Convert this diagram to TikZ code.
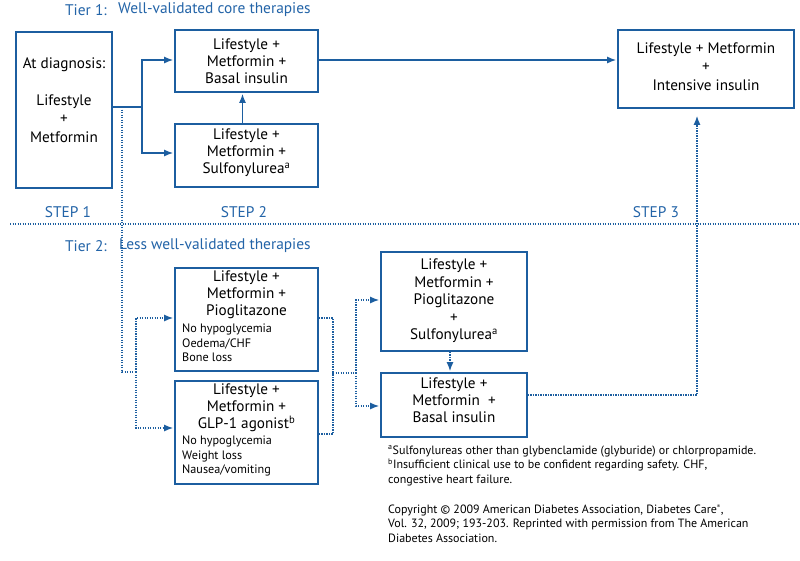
\documentclass[tikz,border=0pt]{standalone}
\usepackage{fontspec}
\setmainfont{PT Sans}
\usetikzlibrary{arrows.meta,calc}
\definecolor{dblue}{RGB}{28,94,160}
\definecolor{tblue}{RGB}{35,100,168}
\begin{document}
\begin{tikzpicture}[x=1pt,y=-1pt,
  box/.style={draw=dblue, line width=1.7pt, rectangle, inner sep=0pt},
  txt/.style={font=\fontsize{15.2}{17}\selectfont, align=center, inner sep=0pt, text=black},
  small/.style={font=\fontsize{12.2}{14.5}\selectfont, align=left, inner sep=0pt, anchor=west, text=black},
  note/.style={font=\fontsize{12}{14.5}\selectfont, align=left, inner sep=0pt, anchor=west, text=black},
  head/.style={text=tblue, font=\fontsize{15.4}{17}\selectfont, inner sep=0pt},
  conn/.style={draw=dblue, line width=1.4pt},
  dots/.style={draw=dblue, line width=1.4pt, dash pattern=on 1.3pt off 1.2pt},
  arr/.style={-{Latex[length=9pt,width=7pt]}, shorten >=1pt}
]
\useasboundingbox[fill=white] (0,0) rectangle (800,560);

% headings
\node[head, anchor=west] (t1a) at (65,10) {Tier 1:};
\node[head, anchor=west] (t1b) at (118,10) {Well-validated core therapies};
\node[head, anchor=west] (t2a) at (65,246) {Tier 2:};
\node[head, anchor=west] (t2b) at (119,246) {Less well-validated therapies};
\node[head] (s1) at (68,212) {STEP 1};
\node[head] (s2) at (244,212) {STEP 2};
\node[head] (s3) at (656,212) {STEP 3};

% boxes
\node[box, minimum width=96pt, minimum height=156pt] (diag) at (64,110) {};
\node[box, minimum width=143pt, minimum height=62pt] (A) at (246.5,61) {};
\node[box, minimum width=143pt, minimum height=63pt] (B) at (246.5,155.5) {};
\node[box, minimum width=176pt, minimum height=78pt] (C) at (706,69) {};
\node[box, minimum width=143pt, minimum height=103pt] (D) at (246.5,319.5) {};
\node[box, minimum width=143pt, minimum height=103pt] (E) at (246.5,432.5) {};
\node[box, minimum width=146pt, minimum height=99pt] (F) at (454,301.5) {};
\node[box, minimum width=146pt, minimum height=64pt] (G) at (454,405) {};

% box texts
\node[txt, font=\fontsize{15.2}{18.5}\selectfont] (diagt) at (64,100) {At diagnosis:\\[18.5pt]Lifestyle\\+\\Metformin};
\node[txt] (At) at (246.5,61) {Lifestyle +\\Metformin +\\Basal insulin};
\node[txt] (Bt) at (246.5,153) {Lifestyle +\\Metformin +\\Sulfonylurea\textsuperscript{a}};
\node[txt, font=\fontsize{15.2}{18.5}\selectfont] (Ct) at (706,66.5) {Lifestyle + Metformin\\+\\Intensive insulin};
\node[txt] (Dt) at (246.5,295) {Lifestyle +\\Metformin +\\Pioglitazone};
\node[small] (Ds) at (182,343) {No hypoglycemia\\Oedema/CHF\\Bone loss};
\node[txt] (Et) at (246.5,408) {Lifestyle +\\Metformin +\\GLP-1 agonist\textsuperscript{b}};
\node[small] (Es) at (182,456) {No hypoglycemia\\Weight loss\\Nausea/vomiting};
\node[txt, font=\fontsize{15.2}{17.5}\selectfont] (Ft) at (454,301) {Lifestyle +\\Metformin +\\Pioglitazone\\+\\Sulfonylurea\textsuperscript{a}};
\node[txt] (Gt) at (454,400) {Lifestyle +\\Metformin\ \ +\\Basal insulin};

% footnotes
\node[note] (fn) at (388,465.5) {\textsuperscript{a}Sulfonylureas other than glybenclamide (glyburide) or chlorpropamide.\\
\textsuperscript{b}Insufficient clinical use to be confident regarding safety. CHF,\\
congestive heart failure.};
\node[note] (cp) at (388,523.5) {Copyright \textcopyright{} 2009 American Diabetes Association, Diabetes Care\textsuperscript{\tiny\textregistered},\\
Vol. 32, 2009; 193-203. Reprinted with permission from The American\\
Diabetes Association.};

% separator
\coordinate (sepL) at (10,224);
\coordinate (sepR) at (800,224);
\draw[dots] (sepL) -- (sepR);

% tier 1 connectors
\coordinate (j1) at (142,107);
\draw[conn] (diag.east |- j1) -- (j1);
\draw[conn, arr] (j1) |- ([yshift=1pt]A.west);
\draw[conn, arr] (j1) |- ([yshift=2.5pt]B.west);
\draw[conn, arr] ([xshift=-4pt]B.north) -- ([xshift=-4pt]A.south);
\draw[conn, arr] ([yshift=1pt]A.east) -- ([yshift=1pt]A.east -| C.west);

% tier 2 connectors (dotted)
\coordinate (d0) at (122,107);
\coordinate (d1) at (122,372);
\coordinate (d2) at (136,372);
\draw[dots] (d0) -- (d1) -- (d2);
\draw[dots, arr] (d2) |- ([yshift=1.5pt]D.west);
\draw[dots, arr] (d2) |- ([yshift=4.5pt]E.west);

\coordinate (b1) at (333,373);
\coordinate (b2) at (356,373);
\draw[dots] ([yshift=1.5pt]D.east) -| (b1);
\draw[dots] ([yshift=-1.5pt]E.east) -| (b1);
\draw[dots] (b1) -- (b2);
\draw[dots, arr] (b2) |- ([yshift=1.5pt]F.west);
\draw[dots, arr] (b2) |- ([yshift=-1pt]G.west);
\draw[dots, arr] ([xshift=-4pt]F.south) -- ([xshift=-4pt]G.north);

\draw[dots, arr, shorten >=7pt] ([yshift=10pt]G.east) -| ([xshift=-9pt]C.south);
\end{tikzpicture}
\end{document}
